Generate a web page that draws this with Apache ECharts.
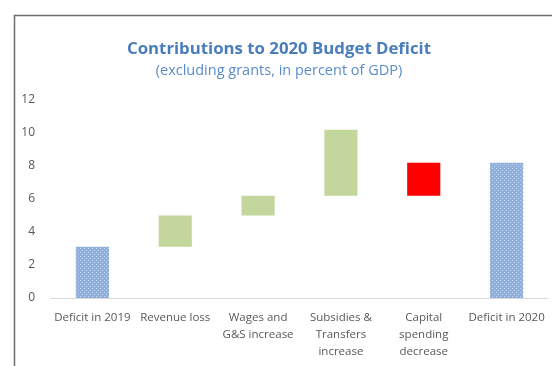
<!DOCTYPE html>
<html>
<head>
<meta charset="utf-8">
<style>
  html, body { margin: 0; padding: 0; background: #fff; }
  #chart { width: 552px; height: 366px; }
</style>
<script src="https://cdn.jsdelivr.net/npm/echarts@6/dist/echarts.min.js"></script>
</head>
<body>
<div id="chart"></div>
<script>
// Waterfall of contributions to the 2020 deficit (percent of GDP)
const categories = ['Deficit in 2019', 'Revenue loss', 'Wages and\nG&S increase',
  'Subsidies &\nTransfers\nincrease', 'Capital\nspending\ndecrease', 'Deficit in 2020'];
// lower edge of each floating bar
const barBase = [0, 3.1, 5.0, 6.2, 6.2, 0];
// upper edge of each floating bar
const barTop = [3.1, 5.0, 6.2, 10.2, 8.2, 8.2];
// bar kind: total, increase, decrease
const barKind = ['total', 'increase', 'increase', 'increase', 'decrease', 'total'];
const yTicks = [0, 2, 4, 6, 8, 10, 12];

// dotted fill used for the total bars
function dotPattern() {
  const c = document.createElement('canvas');
  c.width = 4; c.height = 4;
  const g = c.getContext('2d');
  g.fillStyle = '#8fb0dc';
  g.fillRect(0, 0, 4, 4);
  g.fillStyle = '#c6d7ee';
  g.fillRect(0, 0, 1, 1);
  g.fillRect(2, 2, 1, 1);
  return c;
}
const dots = { image: dotPattern(), repeat: 'repeat' };
const kindColor = { total: dots, increase: '#c3d69b', decrease: '#ff0000' };

const chart = echarts.init(document.getElementById('chart'), null, { renderer: 'canvas' });
chart.setOption({
  animation: false,
  title: {
    text: 'Contributions to 2020 Budget Deficit',
    subtext: '(excluding grants, in percent of GDP)',
    left: 274, textAlign: 'center', top: 36, itemGap: 5,
    textStyle: { fontFamily: 'Open Sans', fontSize: 16.8, fontWeight: 'bold', color: '#4a7ebb' },
    subtextStyle: { fontFamily: 'Open Sans', fontSize: 14.5, color: '#5a8ccc' }
  },
  graphic: [{
    type: 'rect', left: 12, top: 13,
    shape: { width: 600, height: 400 },
    style: { fill: null, stroke: '#6e6e6e', lineWidth: 1.5 },
    silent: true, z: 10
  }],
  grid: { left: 51, right: 4, top: 100, bottom: 68, containLabel: false },
  xAxis: {
    type: 'category', data: categories,
    axisLine: { lineStyle: { color: '#d9d9d9', width: 1 } },
    axisTick: { show: false },
    axisLabel: {
      interval: 0, color: '#595959', fontFamily: 'Open Sans', fontSize: 11.5,
      lineHeight: 17, margin: 11
    }
  },
  yAxis: {
    type: 'value', min: yTicks[0], max: yTicks[yTicks.length - 1], interval: 2,
    splitLine: { show: false }, axisLine: { show: false }, axisTick: { show: false },
    axisLabel: { color: '#595959', fontFamily: 'Open Sans', fontSize: 12, margin: 16 }
  },
  series: [
    {
      type: 'bar', stack: 'w', barWidth: '40%', silent: true,
      itemStyle: { color: 'transparent' },
      data: barBase
    },
    {
      type: 'bar', stack: 'w', barWidth: '40%',
      data: barTop.map((t, i) => ({
        value: +(t - barBase[i]).toFixed(2),
        itemStyle: { color: kindColor[barKind[i]] }
      }))
    }
  ]
});
</script>
</body>
</html>
